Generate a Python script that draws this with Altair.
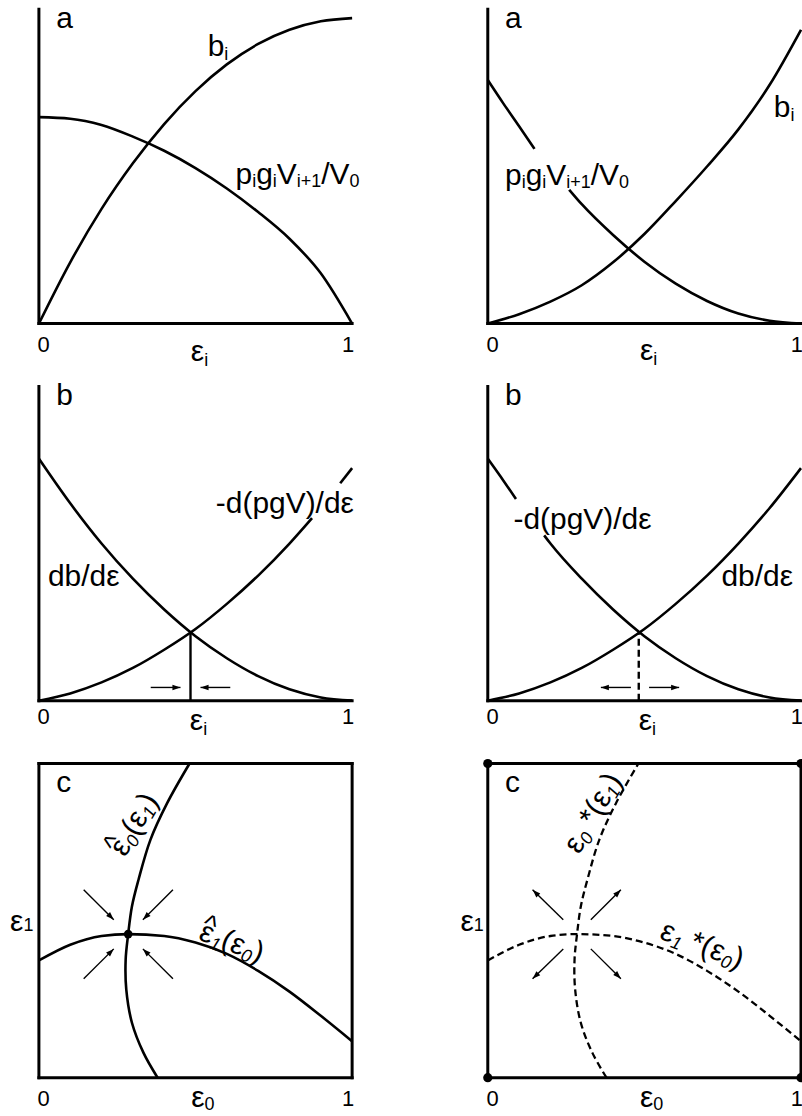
import math
import altair as alt
import pandas as pd

# plot-area size of every panel (pixels) and the page it sits on
W, H = 314, 315
PAGE_W, PAGE_H = 802, 1116
LEFT, TOP = 38.3, 7.0          # top-left corner of the first panel
COL_GAP, ROW_GAP = 136, 63
MARGIN = 20                     # room kept for the invisible page anchors
FONT = "Liberation Sans, Arial, Helvetica, sans-serif"
MAIN, SUB, TICK, HAT = 30, 18, 22, 28
HAT_RAISE = 8.5

# ---------------------------------------------------------------- values
GRID = [0.0, 0.1, 0.2, 0.3, 0.4, 0.5, 0.6, 0.7, 0.8, 0.9, 1.0]

# row a, left: b_i rises and saturates, p_i g_i V_{i+1}/V_0 falls
A1_BENEFIT = [0.0, 0.195, 0.365, 0.51, 0.635, 0.74, 0.825, 0.89, 0.935, 0.962, 0.972]
A1_FUTURE = [0.657, 0.652, 0.632, 0.595, 0.55, 0.495, 0.43, 0.355, 0.27, 0.16, 0.0]

# row a, right: accelerating b_i, convex p_i g_i V_{i+1}/V_0 (broken by its label)
A2_BENEFIT = [0.0, 0.03, 0.07, 0.122, 0.195, 0.285, 0.39, 0.5, 0.618, 0.76, 0.935]
A2_FUTURE_X1 = [0.0, 0.05, 0.1, 0.149]
A2_FUTURE_Y1 = [0.775, 0.70, 0.628, 0.556]
A2_FUTURE_X2 = [0.26, 0.3, 0.4, 0.5, 0.6, 0.7, 0.8, 0.9, 1.0]
A2_FUTURE_Y2 = [0.426, 0.38, 0.282, 0.197, 0.127, 0.072, 0.032, 0.009, 0.0]

# row b: marginal curves
B_FALLING = [0.77, 0.628, 0.5, 0.388, 0.29, 0.205, 0.135, 0.078, 0.036, 0.01, 0.0]
B_RISING = [0.0, 0.023, 0.058, 0.104, 0.162, 0.228, 0.308, 0.398, 0.5, 0.613, 0.74]
# left panel: rising curve interrupted by its label
B1_RISE_X1 = [0.0, 0.1, 0.2, 0.3, 0.4, 0.5, 0.6, 0.7, 0.8, 0.872]
B1_RISE_Y1 = [0.0, 0.023, 0.058, 0.104, 0.162, 0.228, 0.308, 0.398, 0.5, 0.581]
B1_RISE_X2 = [0.962, 1.0]
B1_RISE_Y2 = [0.692, 0.74]
# right panel: falling curve interrupted by its label
B2_FALL_X1 = [0.0, 0.05, 0.09]
B2_FALL_Y1 = [0.77, 0.70, 0.642]
B2_FALL_X2 = [0.18, 0.2, 0.3, 0.4, 0.5, 0.6, 0.7, 0.8, 0.9, 1.0]
B2_FALL_Y2 = [0.526, 0.5, 0.388, 0.29, 0.205, 0.135, 0.078, 0.036, 0.01, 0.0]
B1_CROSS = (0.484, 0.217)
B2_CROSS = (0.482, 0.217)
B_ARROW_Y = 0.042
B1_ARROW_TAIL = [0.357, 0.611]
B1_ARROW_TIP = [0.452, 0.516]
B2_ARROW_TAIL = [0.457, 0.515]
B2_ARROW_TIP = [0.361, 0.611]

# row c: reaction curves eps1(eps0) and eps0(eps1)
C_R1_X = [0.0, 0.1, 0.2, 0.285, 0.4, 0.5, 0.6, 0.7, 0.8, 0.9, 1.0]
C_R1_Y = [0.373, 0.423, 0.451, 0.457, 0.451, 0.43, 0.394, 0.34, 0.274, 0.197, 0.116]
C_R0_Y = [0.0, 0.079, 0.175, 0.28, 0.376, 0.457, 0.545, 0.63, 0.757, 0.873, 1.0]
C_R0_X = [0.379, 0.334, 0.297, 0.279, 0.277, 0.285, 0.297, 0.318, 0.356, 0.409, 0.481]
C_EQ = (0.285, 0.457)
# arrows toward (left) / away from (right) the crossing
C_IN_TAIL_X = [0.143, 0.428, 0.143, 0.428]
C_IN_TAIL_Y = [0.598, 0.598, 0.315, 0.315]
C_IN_TIP_X = [0.239, 0.332, 0.239, 0.332]
C_IN_TIP_Y = [0.503, 0.503, 0.41, 0.41]
C_OUT_TAIL_X = [0.241, 0.329, 0.241, 0.329]
C_OUT_TAIL_Y = [0.503, 0.503, 0.41, 0.41]
C_OUT_TIP_X = [0.143, 0.425, 0.143, 0.425]
C_OUT_TIP_Y = [0.598, 0.598, 0.315, 0.315]
CORNERS_X = [0.0, 1.0, 0.0, 1.0]
CORNERS_Y = [0.0, 0.0, 1.0, 1.0]

# ---------------------------------------------------------------- helpers
SX = alt.Scale(domain=[0, 1], nice=False, zero=False)
SY = alt.Scale(domain=[0, 1], nice=False, zero=False)
X = alt.X("x:Q", scale=SX, axis=None)
Y = alt.Y("y:Q", scale=SY, axis=None)

ADVANCE = {"a": 0.556, "b": 0.556, "c": 0.5, "d": 0.556, "g": 0.556, "i": 0.222,
           "p": 0.556, "V": 0.667, "0": 0.556, "1": 0.556, "+": 0.584, "/": 0.278,
           "(": 0.333, ")": 0.333, "-": 0.333, "ε": 0.445, "*": 0.389, " ": 0.278,
           "^": 0.469}


def text_width(s, size):
    return sum(ADVANCE.get(c, 0.556) for c in s) * size


def place(x0, y0, pieces, angle=0.0, drop=4.0):
    """Lay out a label made of main-size runs, subscripts and hats along a baseline."""
    th = math.radians(angle)
    ux, uy = math.cos(th), math.sin(th)
    nx, ny = -math.sin(th), math.cos(th)
    rows, pen, prev = [], 0.0, 0.0
    for text, role in pieces:
        if role == "gap":
            pen += text_width(text, MAIN)
            continue
        if role == "hat":
            size = HAT
            along = prev + (text_width("ε", MAIN) - text_width(text, HAT)) / 2
            down = -HAT_RAISE
        else:
            sub = role.startswith("s")
            size = SUB if sub else MAIN
            along = pen
            down = drop if sub else 0.0
            prev = pen
            pen += text_width(text, size)
        sx = along * ux + down * nx
        sy = along * uy + down * ny
        rows.append({"x": x0 + sx / W, "y": y0 - sy / H, "text": text, "size": size,
                     "angle": angle % 360, "italic": role == "si"})
    return rows


def ticks(y):
    return [{"x": xc - text_width(s, TICK) / 2 / W, "y": y, "text": s, "size": TICK,
             "angle": 0, "italic": False} for xc, s in [(0.015, "0"), (0.987, "1")]]


def texts(rows):
    df = pd.DataFrame(rows)
    out = []
    for italic, part in df.groupby("italic"):
        out.append(
            alt.Chart(part).mark_text(
                align="left", baseline="alphabetic", font=FONT, color="black",
                fontStyle="italic" if italic else "normal"
            ).encode(
                x=X, y=Y, text="text:N",
                size=alt.Size("size:Q", scale=None),
                angle=alt.Angle("angle:Q", scale=None),
            )
        )
    return out


def curve(xv, yv, dashed=False, ordered=False, width=2.6):
    df = pd.DataFrame({"x": xv, "y": yv, "k": list(range(len(xv)))})
    kw = dict(color="black", strokeWidth=width,
              interpolate="catmull-rom" if ordered else "monotone")
    if dashed:
        kw["strokeDash"] = [7, 4]
    enc = dict(x=X, y=Y)
    if ordered:
        enc["order"] = alt.Order("k:Q")
    return alt.Chart(df).mark_line(**kw).encode(**enc)


def segments(rows, width, dashed=False, cap="butt"):
    df = pd.DataFrame(rows, columns=["x", "y", "x2", "y2"])
    kw = dict(color="black", strokeWidth=width, strokeCap=cap)
    if dashed:
        kw["strokeDash"] = [7, 4]
    return alt.Chart(df).mark_rule(**kw).encode(x=X, y=Y, x2="x2:Q", y2="y2:Q")


HEAD = "M0,0L0.8,2.3L-0.8,2.3Z"


def arrows(tx, ty, hx, hy):
    shafts = [(a, b, c, d) for a, b, c, d in zip(tx, ty, hx, hy)]
    heads = pd.DataFrame({
        "x": hx, "y": hy,
        "angle": [math.degrees(math.atan2((c - a) * W, (d - b) * H)) % 360
                  for a, b, c, d in shafts],
    })
    head_layer = alt.Chart(heads).mark_point(
        shape=HEAD, filled=True, color="black", opacity=1, size=49, strokeWidth=0
    ).encode(x=X, y=Y, angle=alt.Angle("angle:Q", scale=None))
    return [segments(shafts, 1.4), head_layer]


def dots(xv, yv, size):
    df = pd.DataFrame({"x": xv, "y": yv})
    return alt.Chart(df).mark_circle(size=size, color="black", opacity=1).encode(x=X, y=Y)


def anchor(px, py):
    """Invisible point fixing the page extent (pixel offset from the panel's top-left)."""
    df = pd.DataFrame({"x": [px / W], "y": [1 - py / H]})
    return alt.Chart(df).mark_point(size=1, opacity=0).encode(x=X, y=Y)


def panel(layers):
    return alt.layer(*layers).properties(width=W, height=H)


OPEN_AXES = [(0, 0, 0, 1), (0, 0, 1, 0)]
BOX = [(0, 0, 0, 1), (1, 0, 1, 1), (0, 1, 1, 1), (0, 0, 1, 0)]

PG_LABEL = [("p", "m"), ("i", "s"), ("g", "m"), ("i", "s"), ("V", "m"),
            ("i+1", "s"), ("/V", "m"), ("0", "s")]

# page corners relative to the first and the last panel
LAST_LEFT = LEFT + W + COL_GAP
LAST_TOP = TOP + 2 * (H + ROW_GAP)

# ---------------------------------------------------------------- row a
a1 = panel([
    anchor(-LEFT - MARGIN, -TOP - MARGIN),
    segments(OPEN_AXES, 3, cap="square"),
    curve(GRID, A1_BENEFIT),
    curve(GRID, A1_FUTURE),
    *texts(
        place(0.055, 0.94, [("a", "m")])
        + place(0.539, 0.853, [("b", "m"), ("i", "s")], drop=4)
        + place(0.628, 0.444, PG_LABEL, drop=3)
        + ticks(-0.092)
        + place(0.485, -0.119, [("ε", "m"), ("i", "s")], drop=5)
    ),
])

a2 = panel([
    segments(OPEN_AXES, 3, cap="square"),
    curve(GRID, A2_BENEFIT),
    curve(A2_FUTURE_X1, A2_FUTURE_Y1),
    curve(A2_FUTURE_X2, A2_FUTURE_Y2),
    *texts(
        place(0.055, 0.94, [("a", "m")])
        + place(0.913, 0.657, [("b", "m"), ("i", "s")], drop=4)
        + place(0.055, 0.441, PG_LABEL, drop=3)
        + ticks(-0.089)
        + place(0.486, -0.116, [("ε", "m"), ("i", "s")], drop=5)
    ),
])

# ---------------------------------------------------------------- row b
b1 = panel([
    segments(OPEN_AXES, 3, cap="square"),
    curve(GRID, B_FALLING),
    curve(B1_RISE_X1, B1_RISE_Y1),
    curve(B1_RISE_X2, B1_RISE_Y2),
    segments([(B1_CROSS[0], 0, B1_CROSS[0], B1_CROSS[1])], 2.4),
    *arrows(B1_ARROW_TAIL, [B_ARROW_Y] * 2, B1_ARROW_TIP, [B_ARROW_Y] * 2),
    *texts(
        place(0.055, 0.942, [("b", "m")])
        + place(0.029, 0.365, [("db/dε", "m")])
        + place(0.565, 0.598, [("-d(pgV)/dε", "m")])
        + ticks(-0.073)
        + place(0.482, -0.094, [("ε", "m"), ("i", "s")], drop=5)
    ),
])

b2 = panel([
    segments(OPEN_AXES, 3, cap="square"),
    curve(GRID, B_RISING),
    curve(B2_FALL_X1, B2_FALL_Y1),
    curve(B2_FALL_X2, B2_FALL_Y2),
    segments([(B2_CROSS[0], 0, B2_CROSS[0], B2_CROSS[1])], 2.4, dashed=True),
    *arrows(B2_ARROW_TAIL, [B_ARROW_Y] * 2, B2_ARROW_TIP, [B_ARROW_Y] * 2),
    *texts(
        place(0.055, 0.942, [("b", "m")])
        + place(0.082, 0.545, [("-d(pgV)/dε", "m")])
        + place(0.746, 0.365, [("db/dε", "m")])
        + ticks(-0.073)
        + place(0.482, -0.094, [("ε", "m"), ("i", "s")], drop=5)
    ),
])

# ---------------------------------------------------------------- row c
c1 = panel([
    segments(BOX, 3, cap="square"),
    curve(C_R1_X, C_R1_Y),
    curve(C_R0_X, C_R0_Y, ordered=True),
    *arrows(C_IN_TAIL_X, C_IN_TAIL_Y, C_IN_TIP_X, C_IN_TIP_Y),
    dots([C_EQ[0]], [C_EQ[1]], 75),
    *texts(
        place(0.055, 0.91, [("c", "m")])
        + place(-0.092, 0.466, [("ε", "m"), ("1", "s")], drop=0)
        + ticks(-0.09)
        + place(0.486, -0.094, [("ε", "m"), ("0", "s")], drop=3)
        + place(0.276, 0.70, [("ε", "m"), ("^", "hat"), ("0", "si"), ("(", "m"),
                              ("ε", "m"), ("1", "si"), (")", "m")], angle=-60, drop=4)
        + place(0.506, 0.441, [("ε", "m"), ("^", "hat"), ("1", "si"), ("(", "m"),
                               ("ε", "m"), ("0", "si"), (")", "m")], angle=21, drop=4)
    ),
])

c2 = panel([
    anchor(PAGE_W + MARGIN - LAST_LEFT, PAGE_H + MARGIN - LAST_TOP),
    segments(BOX, 3, cap="square"),
    curve(C_R1_X, C_R1_Y, dashed=True, width=2.3),
    curve(C_R0_X, C_R0_Y, dashed=True, ordered=True, width=2.3),
    *arrows(C_OUT_TAIL_X, C_OUT_TAIL_Y, C_OUT_TIP_X, C_OUT_TIP_Y),
    dots(CORNERS_X, CORNERS_Y, 85),
    *texts(
        place(0.055, 0.91, [("c", "m")])
        + place(-0.087, 0.466, [("ε", "m"), ("1", "s")], drop=0)
        + ticks(-0.09)
        + place(0.486, -0.094, [("ε", "m"), ("0", "s")], drop=3)
        + place(0.292, 0.709, [("ε", "m"), ("0", "si"), (" ", "gap"), ("*(", "m"),
                               ("ε", "m"), ("1", "si"), (")", "m")], angle=-60, drop=4)
        + place(0.545, 0.444, [("ε", "m"), ("1", "si"), (" ", "gap"), ("*(", "m"),
                               ("ε", "m"), ("0", "si"), (")", "m")], angle=21, drop=4)
    ),
])

# two-column grid; flush bounds so spacing is measured between plot areas.
# The negative padding trims the invisible anchors' margin, so the page is
# exactly PAGE_W x PAGE_H and whatever lies past its right edge is cut off.
chart = alt.concat(
    a1, a2, b1, b2, c1, c2,
    columns=2,
    spacing={"row": ROW_GAP, "column": COL_GAP},
    bounds="flush",
).properties(
    padding={"left": -MARGIN, "top": -MARGIN, "right": -MARGIN, "bottom": -MARGIN},
    background="white",
).configure_view(stroke=None)

chart.save("out.html", embed_options={"renderer": "svg", "actions": False})
